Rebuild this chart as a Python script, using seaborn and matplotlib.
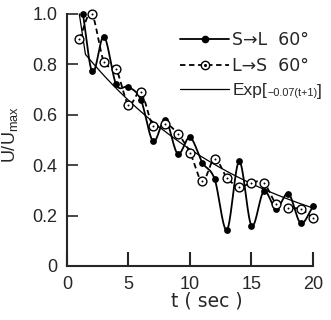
import numpy as np
import pandas as pd
import matplotlib
matplotlib.use("Agg")
import matplotlib.pyplot as plt
from matplotlib.lines import Line2D
import seaborn as sns

# ── Data ─────────────────────────────────────────────────────────────────────
T_SL = [1.3, 2, 3, 4, 5, 6, 7, 8, 9, 10, 11, 12, 13, 14, 15, 16, 17, 18, 19, 20]
U_SL = [1.0, 0.775, 0.91, 0.72, 0.71, 0.66, 0.495, 0.58, 0.445, 0.51,
        0.41, 0.345, 0.143, 0.415, 0.16, 0.296, 0.227, 0.287, 0.17, 0.236]

T_LS = [1, 2, 3, 4, 5, 6, 7, 8, 9, 10, 11, 12, 13, 14, 15, 16, 17, 18, 19, 20]
U_LS = [0.9, 1.0, 0.81, 0.78, 0.64, 0.69, 0.555, 0.565, 0.525, 0.45,
        0.336, 0.425, 0.35, 0.314, 0.33, 0.33, 0.247, 0.23, 0.226, 0.19]

FIT_K     = 0.07           # Exp[-k (t+1)]
FIT_START = (1.0, 1.0)     # hand-drawn fit leaves U/Umax = 1 at t = 1
FIT_T_MIN = 1.5
FIT_T_MAX = 20.0

X_TICKS  = [0, 5, 10, 15, 20]
Y_TICKS  = [0, 0.2, 0.4, 0.6, 0.8, 1.0]
Y_LABELS = ["0", "0.2", "0.4", "0.6", "0.8", "1.0"]

FONT = ["Liberation Sans", "DejaVu Sans"]


def smooth(t, u, n=30):
    """Cubic Hermite curve through the points (the original is hand-smoothed)."""
    t = np.asarray(t, float)
    u = np.asarray(u, float)
    m = np.gradient(u, t)
    s = np.linspace(0, 1, n)
    h00, h10 = 2*s**3 - 3*s**2 + 1, s**3 - 2*s**2 + s
    h01, h11 = -2*s**3 + 3*s**2, s**3 - s**2
    ts, us = [], []
    for i in range(len(t) - 1):
        h = t[i+1] - t[i]
        ts.append(t[i] + s*h)
        us.append(h00*u[i] + h10*h*m[i] + h01*u[i+1] + h11*h*m[i+1])
    return np.concatenate(ts), np.concatenate(us)


sns.set_style("ticks")
plt.rcParams["font.family"] = FONT
plt.rcParams["mathtext.fontset"] = "custom"
plt.rcParams["mathtext.rm"] = "Liberation Sans"
plt.rcParams["mathtext.it"] = "Liberation Sans:italic"

fig = plt.figure(figsize=(3.31, 3.20), dpi=100)
ax = fig.add_axes([0.2024, 0.169, 0.7432, 0.7875])

# smooth curves
ts, us = smooth(T_SL, U_SL)
tl, ul = smooth(T_LS, U_LS)
sns.lineplot(x=ts, y=us, ax=ax, color="black", lw=1.3, sort=False,
             estimator=None, clip_on=False)
sns.lineplot(x=tl, y=ul, ax=ax, color="black", lw=1.3, sort=False,
             estimator=None, dashes=False, clip_on=False, linestyle=(0, (3, 2)))

# fitted exponential
t_fit = np.linspace(FIT_T_MIN, FIT_T_MAX, 200)
u_fit = np.exp(-FIT_K * (t_fit + 1))
t_fit = np.r_[FIT_START[0], t_fit]
u_fit = np.r_[FIT_START[1], u_fit]
sns.lineplot(x=t_fit, y=u_fit, ax=ax, color="black", lw=0.9, sort=False,
             estimator=None, clip_on=False)

# markers
sns.scatterplot(x=T_SL, y=U_SL, ax=ax, color="black", s=24, linewidth=0,
                zorder=5, clip_on=False)
sns.scatterplot(x=T_LS, y=U_LS, ax=ax, facecolor="white", edgecolor="black",
                s=40, linewidth=1.0, zorder=5, clip_on=False)
sns.scatterplot(x=T_LS, y=U_LS, ax=ax, color="black", s=2, linewidth=0,
                zorder=6, clip_on=False)

ax.set_xlim(0, 20)
ax.set_ylim(0, 1.0)
ax.set_xticks(X_TICKS)
ax.set_yticks(Y_TICKS)
ax.set_yticklabels(Y_LABELS)
sns.despine(ax=ax)
for sp in ["left", "bottom"]:
    ax.spines[sp].set_linewidth(1.5)
ax.tick_params(axis="x", direction="in", length=10, width=1.5, pad=7,
               labelsize=13)
ax.tick_params(axis="y", direction="in", length=8, width=1.2, pad=7,
               labelsize=13)

ax.set_xlabel("t ( sec )", fontsize=13.5, family="DejaVu Sans")
ax.xaxis.set_label_coords(0.57, -0.10)
ax.set_ylabel(r"U/U$_{\mathrm{max}}$", fontsize=13)
ax.yaxis.set_label_coords(-0.19, 0.52)

# legend
h_sl = Line2D([], [], color="black", lw=1.3, marker="o", ms=4.5)
h_ls = (Line2D([], [], color="black", lw=1.3, linestyle=(0, (3, 2)),
               marker="o", ms=6, mfc="white", mew=1.0),
        Line2D([], [], color="black", ls="none", marker="o", ms=1.2))
h_fit = Line2D([], [], color="black", lw=0.9)
leg = ax.legend([h_sl, h_ls, h_fit],
                ["S\u2192L  60\u00b0", "L\u2192S  60\u00b0", "Exp["],
                loc="upper left", bbox_to_anchor=(0.432, 0.958), frameon=False,
                prop={"family": "DejaVu Sans", "size": 12.5},
                handlelength=2.8, handletextpad=0.2,
                labelspacing=0.45, numpoints=1, borderaxespad=0)
exp_txt = leg.get_texts()[2]
exp_txt.set_family("Liberation Sans")
small = ax.annotate("\u22120.07(t+1)", xy=(1, 0.35), xycoords=exp_txt,
                    ha="left", va="center", fontsize=7.8, zorder=10)
ax.annotate("]", xy=(1, 0.62), xycoords=small, ha="left", va="center",
            fontsize=12.5, zorder=11)

fig.savefig("out.png", dpi=100)
